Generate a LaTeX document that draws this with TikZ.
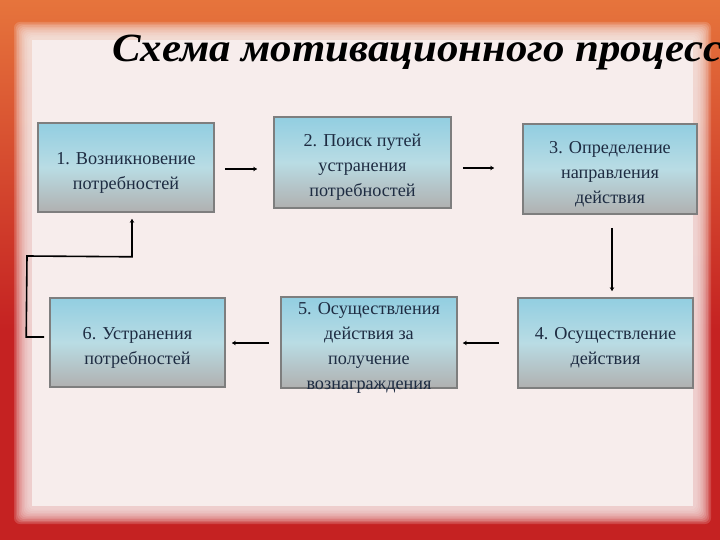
\documentclass[tikz,border=0pt]{standalone}
\usepackage{fontspec}
\setmainfont{Liberation Serif}
\usetikzlibrary{arrows.meta,calc}
\definecolor{bgred}{HTML}{C52222}
\definecolor{bgorange}{HTML}{E6743C}
\definecolor{panel}{HTML}{F7EDEC}
\definecolor{boxtop}{HTML}{92CEE1}
\definecolor{boxmid}{HTML}{B9DCE4}
\definecolor{boxbot}{HTML}{B0B0B0}
\definecolor{boxborder}{HTML}{7E7E7E}
\definecolor{boxtext}{HTML}{1E2C42}
\newcommand{\bxs}{\rule{0pt}{22pt}}
\begin{document}
\begin{tikzpicture}[x=1pt,y=-1pt,
  box/.style={draw=boxborder, line width=1.6pt, top color=boxtop, bottom color=boxbot, middle color=boxmid,
    align=center, text=boxtext, font=\fontsize{18.2}{25}\selectfont, inner sep=0pt},
  btext/.style={align=center, text=boxtext, font=\fontsize{18.2}{25}\selectfont, inner sep=0pt},
  arr/.style={line width=1.6pt, -{Stealth[length=4pt,width=4.5pt]}}]
\useasboundingbox (0,0) rectangle (720,540);
\clip (0,0) rectangle (720,540);
% background
\fill[bgred] (0,0) rectangle (720,540);
\shade[top color=bgorange, bottom color=bgred] (0,0) rectangle (720,330);
\foreach \i in {10,...,1}
  \fill[panel, opacity=0.18, rounded corners=6pt] ({30-1.6*\i},{38-1.6*\i}) rectangle ({695+1.6*\i},{508+1.6*\i});
\fill[panel] (32,40) rectangle (693,506);
% title
\node[anchor=base west, inner sep=0pt, text=black, font=\fontsize{40}{44}\selectfont\bfseries\itshape, xscale=1.07] (title) at (112,62) {Схема мотивационного процесса};
% boxes
\node[box, minimum width=176pt, minimum height=89pt] (b1) at (126,167.5) {\bxs 1. Возникновение\\потребностей};
\node[box, minimum width=177pt, minimum height=91pt] (b2) at (362.5,162.5) {\bxs 2. Поиск путей\\устранения\\потребностей};
\node[box, minimum width=174pt, minimum height=90pt] (b3) at (610,169) {\bxs 3. Определение\\направления\\действия};
\node[box, minimum width=175pt, minimum height=90pt] (b4) at (605.5,343) {\bxs 4. Осуществление\\действия};
\node[box, minimum width=176pt, minimum height=91pt] (b5) at (369,342.5) {};
\node[btext] (t5) at ($(b5.center)+(0,5)$) {5. Осуществления\\действия за\\получение\\вознаграждения};
\node[box, minimum width=175pt, minimum height=89pt] (b6) at (137.5,342.5) {\bxs 6. Устранения\\потребностей};
% connectors
\draw[arr] ($(b1.east)+(10,1.5)$) -- ($(b2.west)+(-16,6.5)$);
\draw[arr] ($(b2.east)+(11,5.5)$) -- ($(b3.west)+(-28,-1)$);
\draw[arr] ($(b3.south)+(2,13)$) -- ($(b4.north)+(6.5,-6)$);
\draw[arr] ($(b4.west)+(-18,0)$) -- ($(b5.east)+(5,0.5)$);
\draw[arr] ($(b5.west)+(-11,0.5)$) -- ($(b6.east)+(6,0.5)$);
\coordinate (c1) at ($(b6.west)+(-23,-5.5)$);
\coordinate (c2) at (27,256);
\draw[arr] ($(b6.west)+(-5,-5.5)$) -- (c1) -- (c2) -- ($(b1.south)+(6,44)$) -- ($(b1.south)+(6,6)$);
\end{tikzpicture}
\end{document}
